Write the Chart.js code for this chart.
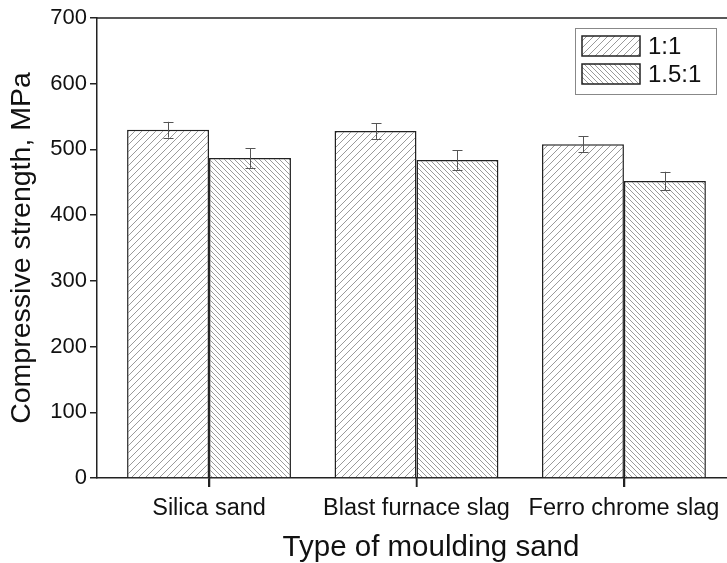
<!DOCTYPE html>
<html>
<head>
<meta charset="utf-8">
<script src="https://cdn.jsdelivr.net/npm/chart.js@4.4.7/dist/chart.umd.min.js"></script>
<style>
  html, body { margin: 0; padding: 0; background: #fff; overflow: hidden; }
  #wrap { position: relative; width: 765px; height: 563px; }
</style>
</head>
<body>
<div id="wrap"><canvas id="strengthChart"></canvas></div>
<script>
// ===== データ =====
const categories = ['Silica sand', 'Blast furnace slag', 'Ferro chrome slag'];
const seriesNames = ['1:1', '1.5:1'];
const strength11 = [530, 528, 508];
const strength151 = [487, 484, 452];
const error11 = [12, 12, 12];
const error151 = [15, 15, 14];
const yTicks = [0, 100, 200, 300, 400, 500, 600, 700];

const FONT = "'Liberation Sans', Arial, sans-serif";

// ===== ハッチングパターン =====
function makeHatch(size, forward) {
  const c = document.createElement('canvas');
  c.width = size;
  c.height = size;
  const g = c.getContext('2d');
  g.fillStyle = '#fff';
  g.fillRect(0, 0, size, size);
  g.strokeStyle = '#9a9a9a';
  g.lineWidth = 1;
  g.beginPath();
  if (forward) {
    g.moveTo(-1, size + 1); g.lineTo(size + 1, -1);
    g.moveTo(-1, 1); g.lineTo(1, -1);
    g.moveTo(size - 1, size + 1); g.lineTo(size + 1, size - 1);
  } else {
    g.moveTo(-1, -1); g.lineTo(size + 1, size + 1);
    g.moveTo(size - 1, -1); g.lineTo(size + 1, 1);
    g.moveTo(-1, size - 1); g.lineTo(1, size + 1);
  }
  g.stroke();
  return g.createPattern(c, 'repeat');
}

const hatch11 = makeHatch(7, true);
const hatch151 = makeHatch(5, false);

// ===== エラーバー =====
const errorBars = {
  id: 'errorBars',
  afterDatasetsDraw(chart) {
    const ctx = chart.ctx;
    const y = chart.scales.y;
    ctx.save();
    ctx.strokeStyle = '#555';
    ctx.lineWidth = 1;
    chart.data.datasets.forEach((ds, i) => {
      const meta = chart.getDatasetMeta(i);
      meta.data.forEach((bar, j) => {
        const v = ds.data[j].y;
        const e = ds.errors[j];
        const top = y.getPixelForValue(v + e);
        const bot = y.getPixelForValue(v - e);
        const x = Math.round(bar.x) + 0.5;
        ctx.beginPath();
        ctx.moveTo(x, top); ctx.lineTo(x, bot);
        ctx.moveTo(x - 5, Math.round(top) + 0.5); ctx.lineTo(x + 5, Math.round(top) + 0.5);
        ctx.moveTo(x - 5, Math.round(bot) + 0.5); ctx.lineTo(x + 5, Math.round(bot) + 0.5);
        ctx.stroke();
      });
    });
    ctx.restore();
  }
};

// ===== 上枠線・X軸目盛り・凡例 =====
const frameAndLegend = {
  id: 'frameAndLegend',
  afterDraw(chart) {
    const ctx = chart.ctx;
    const a = chart.chartArea;
    const xs = chart.scales.x;
    ctx.save();
    ctx.strokeStyle = '#222';
    ctx.lineWidth = 1.5;
    ctx.beginPath();
    ctx.moveTo(a.left, a.top);
    ctx.lineTo(a.right, a.top);
    // カテゴリ中心の下向き目盛り
    categories.forEach((c, i) => {
      const px = Math.round(xs.getPixelForValue(i + 1)) + 0.5;
      ctx.moveTo(px, a.bottom);
      ctx.lineTo(px, a.bottom + 9);
    });
    ctx.stroke();

    const lx = 575;
    const ly = a.top + 10;
    ctx.fillStyle = '#fff';
    ctx.fillRect(lx, ly, 141, 66);
    ctx.strokeStyle = '#888';
    ctx.lineWidth = 1;
    ctx.strokeRect(lx + 0.5, ly + 0.5, 141, 66);

    const fills = [hatch11, hatch151];
    seriesNames.forEach((name, i) => {
      const sy = ly + 8 + i * 28;
      ctx.fillStyle = fills[i];
      ctx.fillRect(lx + 7, sy, 58, 20);
      ctx.strokeStyle = '#222';
      ctx.lineWidth = 1.5;
      ctx.strokeRect(lx + 7, sy, 58, 20);
      ctx.fillStyle = '#111';
      ctx.font = '24px ' + FONT;
      ctx.textBaseline = 'middle';
      ctx.textAlign = 'left';
      ctx.fillText(name, lx + 73, sy + 11);
    });
    ctx.restore();
  }
};

// ===== チャート =====
function toPoints(values) {
  return values.map((v, i) => ({ x: i + 1, y: v }));
}

new Chart(document.getElementById('strengthChart'), {
  type: 'bar',
  data: {
    datasets: [
      {
        label: seriesNames[0],
        data: toPoints(strength11),
        errors: error11,
        backgroundColor: hatch11,
        borderColor: '#222',
        borderWidth: 1.5
      },
      {
        label: seriesNames[1],
        data: toPoints(strength151),
        errors: error151,
        backgroundColor: hatch151,
        borderColor: '#222',
        borderWidth: 1.5
      }
    ]
  },
  options: {
    responsive: true,
    maintainAspectRatio: false,
    animation: false,
    categoryPercentage: 0.79,
    barPercentage: 1.0,
    layout: { padding: { top: 18, left: 0, right: 0, bottom: 0 } },
    plugins: {
      legend: { display: false },
      tooltip: { enabled: false }
    },
    scales: {
      x: {
        type: 'linear',
        offset: false,
        min: 0.46,
        max: 3.68,
        afterBuildTicks(scale) {
          scale.ticks = categories.map((c, i) => ({ value: i + 1 }));
        },
        afterFit(scale) { scale.height = 85; },
        ticks: {
          callback: (v) => categories[Math.round(v) - 1] || '',
          color: '#111',
          font: { family: FONT, size: 23.5 },
          padding: 7,
          maxRotation: 0
        },
        grid: { offset: false, drawOnChartArea: false, drawTicks: true, tickLength: 9, color: '#222', lineWidth: 1.5 },
        border: { display: true, color: '#222', width: 1.5 },
        title: {
          display: true,
          text: 'Type of moulding sand',
          color: '#111',
          font: { family: FONT, size: 29.5, lineHeight: 1.0 },
          padding: { bottom: 0 }
        }
      },
      y: {
        min: 0,
        max: 700,
        afterBuildTicks(scale) {
          scale.ticks = yTicks.map(v => ({ value: v }));
        },
        afterFit(scale) { scale.width = 97; },
        ticks: {
          color: '#111',
          font: { family: FONT, size: 22 },
          padding: 3
        },
        grid: { drawOnChartArea: false, drawTicks: true, tickLength: 7, color: '#222', lineWidth: 1.5 },
        border: { display: true, color: '#222', width: 1.5 },
        title: {
          display: true,
          text: 'Compressive strength, MPa',
          color: '#111',
          font: { family: FONT, size: 28.5 },
          padding: { top: 5 }
        }
      }
    }
  },
  plugins: [errorBars, frameAndLegend]
});
</script>
</body>
</html>
